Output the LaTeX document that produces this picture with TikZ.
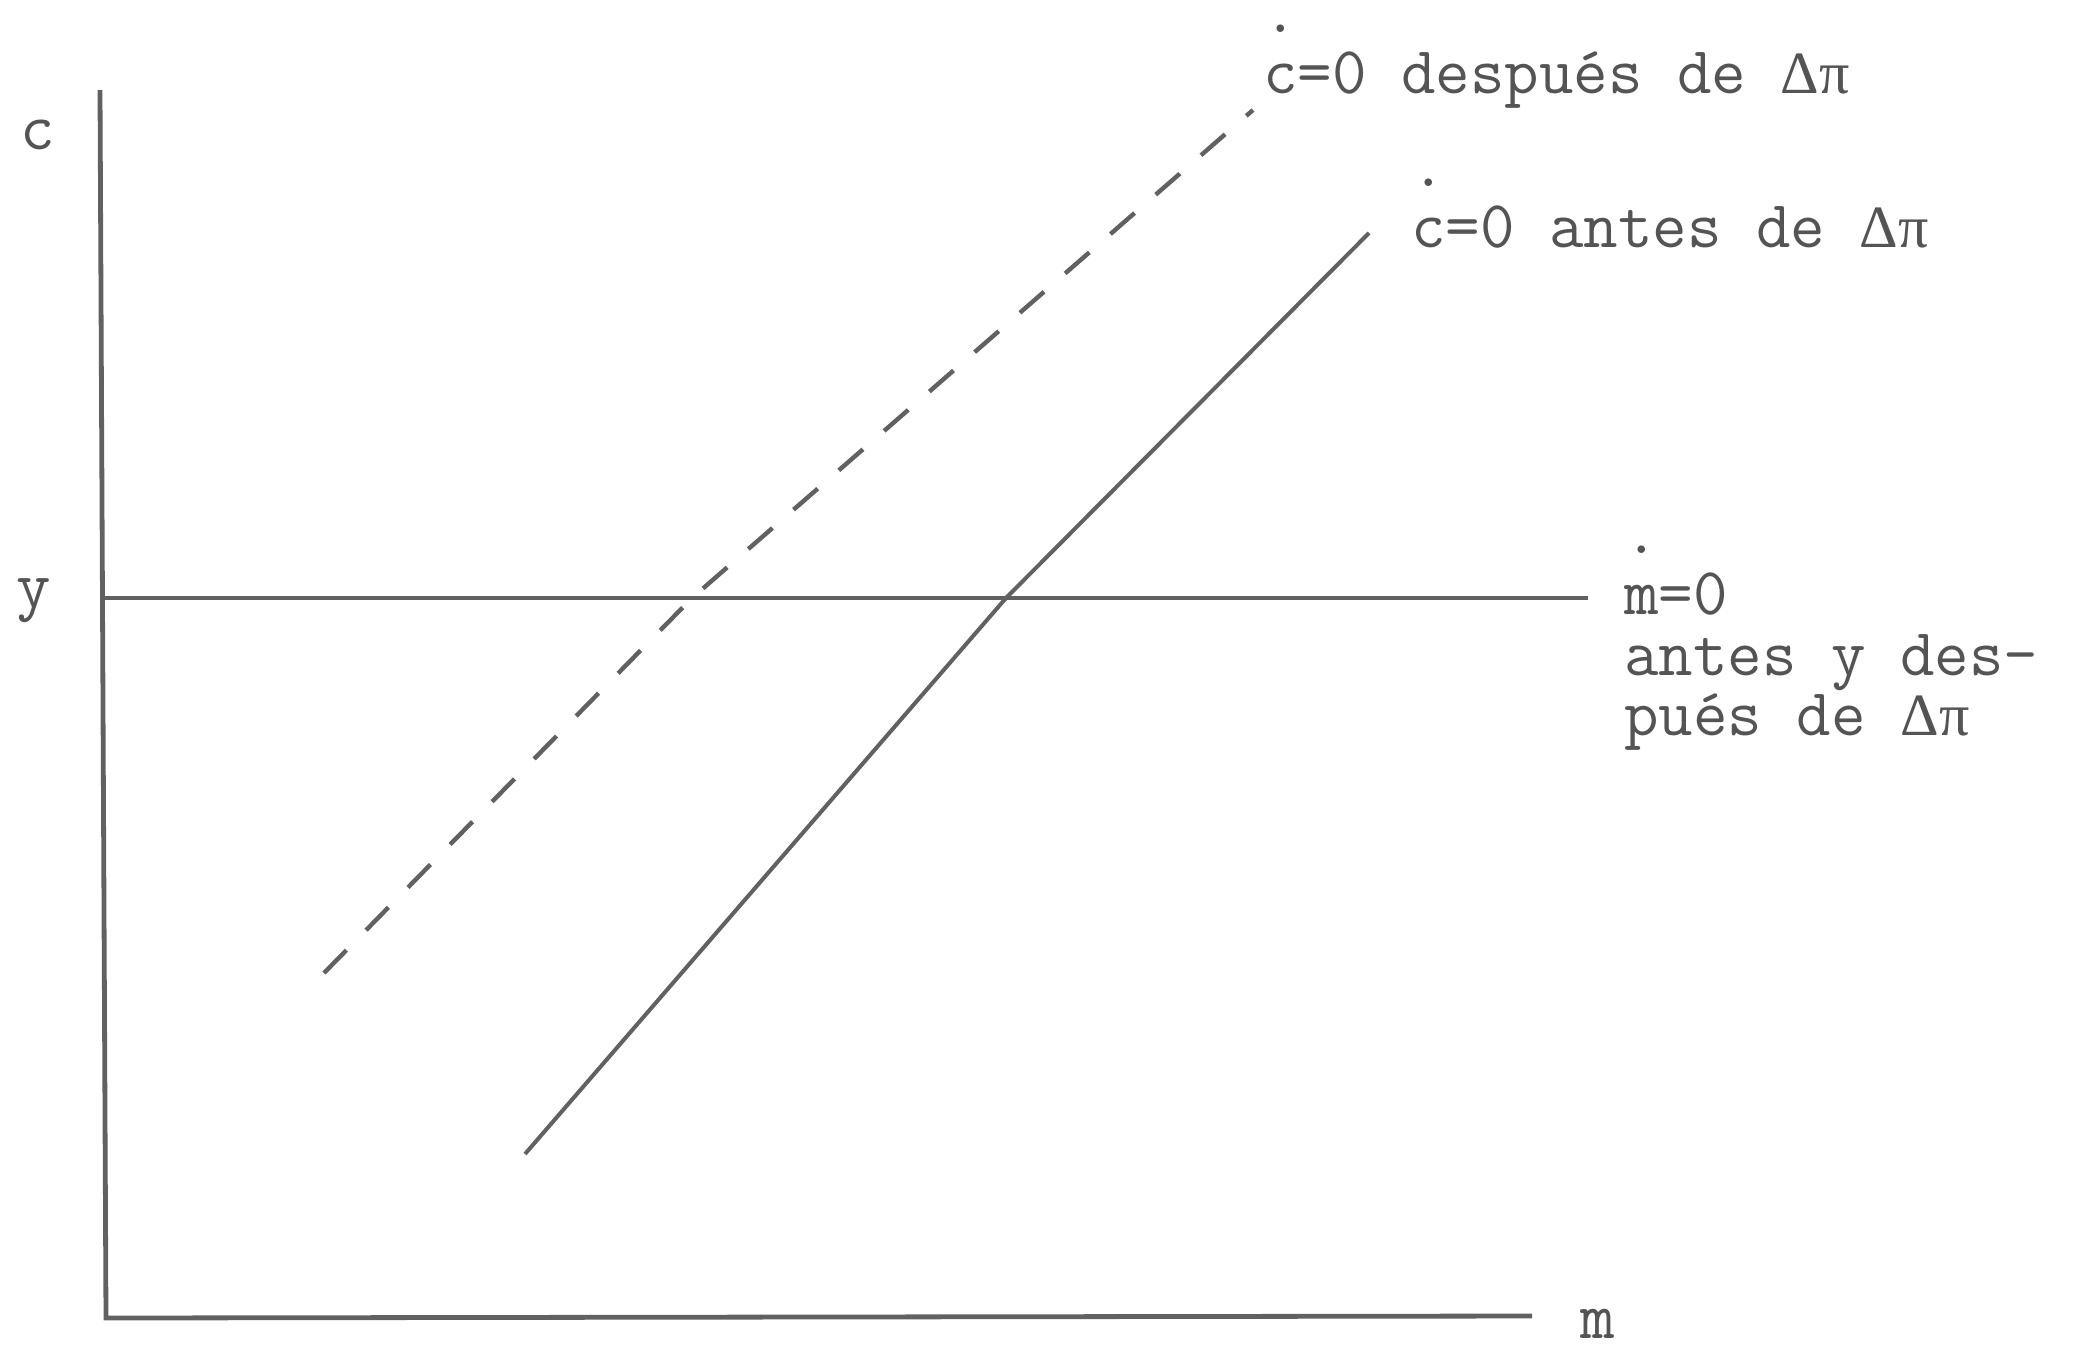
\documentclass[tikz,border=0pt]{standalone}
\usepackage{fontspec}
\newfontfamily\tw{Latin Modern Mono}
\newfontfamily\gk{Liberation Serif}
\newcommand\hd[1]{\ooalign{#1\cr\raisebox{0.9em}{.}\cr}}
\newcommand\dpi{{\gk\fontsize{30}{30}\selectfont Δπ}}
\definecolor{ink}{gray}{0.38}
\definecolor{txt}{gray}{0.33}
\tikzset{
  axisline/.style={draw=ink, line width=2.4pt},
  curve/.style={draw=ink, line width=2pt},
  dashcurve/.style={draw=ink, line width=2.2pt, dash pattern=on 16pt off 14pt},
  lbl/.style={inner sep=0pt, anchor=base west, text=txt, font=\tw\fontsize{33.5}{34}\selectfont},
}
\begin{document}
\begin{tikzpicture}[x=0.5pt,y=-0.5pt]
\useasboundingbox (0,0) rectangle (2084,1351);
% axes
\coordinate (ctop) at (100,90);
\coordinate (orig) at (106,1318);
\coordinate (mend) at (1532,1316);
\draw[axisline] (ctop) -- (orig) -- (mend);
% m-dot = 0
\coordinate (ys) at (100,598);
\coordinate (ye) at (1588,598);
\draw[axisline] (ys) -- (ye);
% c-dot = 0 before
\coordinate (sa) at (525,1154);
\coordinate (sb) at (1006,598);
\coordinate (sc) at (1369,233);
\draw[curve] (sa) -- (sb) -- (sc);
% c-dot = 0 after
\coordinate (da) at (324,973);
\coordinate (db) at (692,598);
\coordinate (dc) at (1253,110);
\draw[dashcurve] (da) -- (db) -- (dc);
% labels
\node[lbl] (lc) at (20,149) {c};
\node[lbl] (ly) at (16,607) {y};
\node[lbl] (lm) at (1580,1338) {m};
\node[lbl] (lafter) at (1263,93) {\hd{c}=0 después de \dpi};
\node[lbl] (lbefore) at (1411,247) {\hd{c}=0 antes de \dpi};
\node[lbl] (lm1) at (1624,614) {\hd{m}=0};
\node[lbl] (lm2) at (1624,675) {antes y des-};
\node[lbl] (lm3) at (1624,735) {pués de \dpi};
\end{tikzpicture}
\end{document}
